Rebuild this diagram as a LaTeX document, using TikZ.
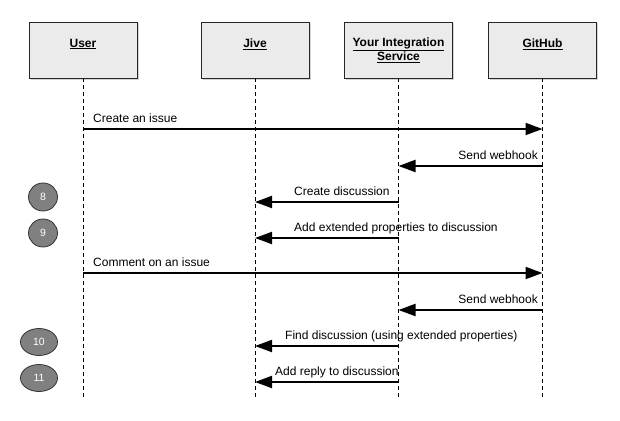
\documentclass[tikz,border=0pt]{standalone}
\usepackage{fontspec}
\setmainfont{Liberation Sans}
\usetikzlibrary{arrows.meta,shadows,shapes.geometric}

\tikzset{
  actor/.style={draw=black!85, fill=black!8, line width=0.9pt,
    minimum width=108pt, minimum height=56pt, align=center,
    font=\bfseries\fontsize{12}{14}\selectfont,
    drop shadow={shadow xshift=1.5pt, shadow yshift=-1.5pt, opacity=0.35}},
  life/.style={line width=0.8pt, dash pattern=on 4pt off 3pt},
  msg/.style={line width=2pt, -{Triangle[length=17pt,width=12pt]}},
  lbl/.style={inner sep=0pt, font=\fontsize{12}{13}\selectfont},
  stepnum/.style={ellipse, draw=black!80, fill=black!50, text=white,
    line width=0.8pt, inner sep=0pt, font=\fontsize{10.5}{12}\selectfont}
}

\begin{document}
\begin{tikzpicture}[x=1pt,y=-1pt]
  \useasboundingbox (0,0) rectangle (620,420);
  % participants
  \node[actor] (user)   at (83,50)    {\underline{User}\\\mbox{}};
  \node[actor] (jive)   at (255,50)   {\underline{Jive}\\\mbox{}};
  \node[actor] (yis)    at (398.5,50) {\underline{Your Integration}\\\underline{Service}};
  \node[actor] (github) at (542.5,50) {\underline{GitHub}\\\mbox{}};
  % lifelines
  \foreach \n in {user,jive,yis,github}
    \draw[life] (\n.south) -- (\n.south |- 0,399);
  % messages
  \foreach \a/\b/\y in {user/github/129, github/yis/166, yis/jive/202, yis/jive/238,
                        user/github/273, github/yis/310, yis/jive/346, yis/jive/382}
    \draw[msg] (\a.south |- 0,\y) -- (\b.south |- 0,\y);
  \foreach \x/\y/\anc/\t in {93/122/west/{Create an issue}, 538/159/east/{Send webhook},
      294/195/west/{Create discussion}, 294/231/west/{Add extended properties to discussion},
      93/266/west/{Comment on an issue}, 538/303/east/{Send webhook},
      285/339/west/{Find discussion (using extended properties)},
      275/375/west/{Add reply to discussion}}
    \node[lbl, anchor=base \anc] at (\x,\y) {\t};
  % step numbers
  \node[stepnum, minimum width=29pt, minimum height=28pt] (s8)  at (43,197) {8};
  \node[stepnum, minimum width=29pt, minimum height=28pt] (s9)  at (43,233) {9};
  \node[stepnum, minimum width=37pt, minimum height=27pt] (s10) at (39,342) {10};
  \node[stepnum, minimum width=37pt, minimum height=27pt] (s11) at (39,378) {11};
\end{tikzpicture}
\end{document}
